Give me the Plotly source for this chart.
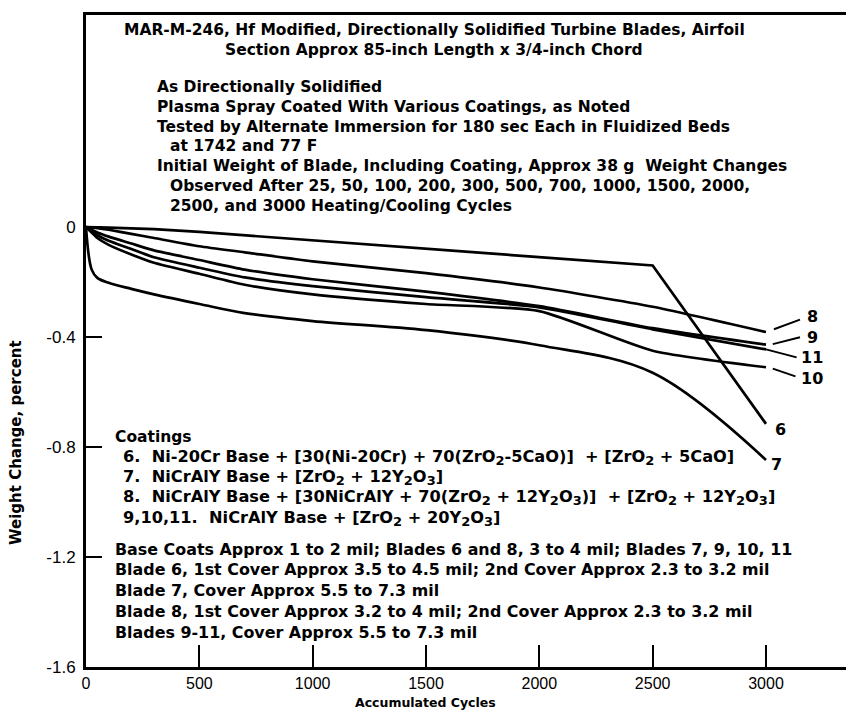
import plotly.graph_objects as go

# ---------------- data ----------------
cycles = [0, 25, 50, 100, 200, 300, 500, 700, 1000, 1500, 2000, 2500, 3000]
blade6 = [0, 0, 0, -0.002, -0.005, -0.008, -0.018, -0.030, -0.048, -0.080, -0.110, -0.140, -0.716]
blade7 = [0, -0.155, -0.185, -0.203, -0.225, -0.245, -0.280, -0.313, -0.342, -0.375, -0.430, -0.530, -0.847]
blade8 = [0, -0.002, -0.004, -0.010, -0.025, -0.040, -0.070, -0.092, -0.125, -0.168, -0.220, -0.290, -0.382]
blade9 = [0, -0.010, -0.020, -0.035, -0.060, -0.085, -0.120, -0.155, -0.190, -0.235, -0.288, -0.368, -0.428]
blade10 = [0, -0.020, -0.040, -0.065, -0.100, -0.130, -0.170, -0.210, -0.245, -0.280, -0.306, -0.450, -0.510]
blade11 = [0, -0.015, -0.030, -0.050, -0.080, -0.110, -0.148, -0.183, -0.215, -0.255, -0.292, -0.372, -0.445]

x_tickvals = [0, 500, 1000, 1500, 2000, 2500, 3000]
x_ticktext = ["0", "500", "1000", "1500", "2000", "2500", "3000"]
y_tickvals = [0, -0.4, -0.8, -1.2, -1.6]
y_ticktext = ["0", "-0.4", "-0.8", "-1.2", "-1.6"]

curve_names = ["6", "7", "8", "9", "10", "11"]

NB = "\u00a0"


def sub(s):
    return "<sub><span style='font-size:13px'>" + s + "</span></sub>"


title_lines = [
    "MAR-M-246, Hf Modified, Directionally Solidified Turbine Blades, Airfoil",
    "Section Approx 85-inch Length x 3/4-inch Chord",
]
header_lines = [
    ("As Directionally Solidified", 0),
    ("Plasma Spray Coated With Various Coatings, as Noted", 0),
    ("Tested by Alternate Immersion for 180 sec Each in Fluidized Beds", 0),
    ("at 1742 and 77 F", 1),
    ("Initial Weight of Blade, Including Coating, Approx 38 g" + NB + " Weight Changes", 0),
    ("Observed After 25, 50, 100, 200, 300, 500, 700, 1000, 1500, 2000,", 1),
    ("2500, and 3000 Heating/Cooling Cycles", 1),
]
coating_lines = [
    ("Coatings", 0),
    ("6." + NB * 2 + "Ni-20Cr Base + [30(Ni-20Cr) + 70(ZrO" + sub("2") + "-5CaO)]" + NB * 2
     + "+ [ZrO" + sub("2") + " + 5CaO]", 1),
    ("7." + NB * 2 + "NiCrAlY Base + [ZrO" + sub("2") + " + 12Y" + sub("2") + "O" + sub("3") + "]", 1),
    ("8." + NB * 2 + "NiCrAlY Base + [30NiCrAlY + 70(ZrO" + sub("2") + " + 12Y" + sub("2") + "O" + sub("3")
     + ")]" + NB * 2 + "+ [ZrO" + sub("2") + " + 12Y" + sub("2") + "O" + sub("3") + "]", 1),
    ("9,10,11." + NB * 2 + "NiCrAlY Base + [ZrO" + sub("2") + " + 20Y" + sub("2") + "O" + sub("3") + "]", 1),
]
thickness_lines = [
    "Base Coats Approx 1 to 2 mil; Blades 6 and 8, 3 to 4 mil; Blades 7, 9, 10, 11",
    "Blade 6, 1st Cover Approx 3.5 to 4.5 mil; 2nd Cover Approx 2.3 to 3.2 mil",
    "Blade 7, Cover Approx 5.5 to 7.3 mil",
    "Blade 8, 1st Cover Approx 3.2 to 4 mil; 2nd Cover Approx 2.3 to 3.2 mil",
    "Blades 9-11, Cover Approx 5.5 to 7.3 mil",
]

# ---------------- layout geometry ----------------
W, H = 846, 712
L, R, T, B = 86, 0, 15, 45
PW, PH = W - L - R, H - T - B


def paper(xp, yp):
    return (xp - L) / PW, (H - B - yp) / PH


FONT = "DejaVu Sans, Liberation Sans, sans-serif"
TICKFONT = "Liberation Sans, Arial, sans-serif"
BLACK = "#000000"

fig = go.Figure()

series = [blade6, blade7, blade8, blade9, blade10, blade11]
for name, vals in zip(curve_names, series):
    fig.add_trace(go.Scatter(
        x=cycles, y=vals, mode="lines", name=name,
        line=dict(color=BLACK, width=2.7,
                  shape="linear" if name == "6" else "spline",
                  smoothing=1.0 if name == "7" else 0.6),
        showlegend=False, hoverinfo="skip",
    ))

annotations = []

# curve labels (data coordinates)
label_pos = {"8": (3203, -0.326), "9": (3203, -0.401), "11": (3203, -0.474),
             "10": (3203, -0.550), "6": (3065, -0.735), "7": (3045, -0.862)}
for name in curve_names:
    lx, ly = label_pos[name]
    annotations.append(dict(x=lx, y=ly, xref="x", yref="y", text=name, showarrow=False,
                            xanchor="center", yanchor="middle",
                            font=dict(family=FONT, size=16, color=BLACK, weight="bold")))

# leader lines from curve ends to labels
leaders = [((3035, -0.372), (3150, -0.337)),
           ((3030, -0.426), (3150, -0.401)),
           ((3000, -0.445), (3135, -0.474)),
           ((3030, -0.515), (3130, -0.543))]
shapes = []
for (x0, y0), (x1, y1) in leaders:
    shapes.append(dict(type="line", xref="x", yref="y", x0=x0, y0=y0, x1=x1, y1=y1,
                       line=dict(color=BLACK, width=2)))

txt_font = dict(family=FONT, size=15.5, color=BLACK, weight="bold")
coat_font = dict(family=FONT, size=16.2, color=BLACK, weight="bold")
thick_font = dict(family=FONT, size=15.9, color=BLACK, weight="bold")

# title lines
for i, t in enumerate(title_lines):
    xp, yp = paper(434, 30 + 20 * i)
    annotations.append(dict(x=xp, y=yp, xref="paper", yref="paper", text=t, showarrow=False,
                            xanchor="center", yanchor="middle", font=txt_font))

# header block
for i, (t, ind) in enumerate(header_lines):
    xp, yp = paper(155 + 13 * ind, 87 + 19.8 * i)
    annotations.append(dict(x=xp, y=yp, xref="paper", yref="paper", text=t, showarrow=False,
                            xanchor="left", yanchor="middle", font=txt_font))

# coatings block
for i, (t, ind) in enumerate(coating_lines):
    xp, yp = paper(113 + 8 * ind, 437 + 20.3 * i)
    annotations.append(dict(x=xp, y=yp, xref="paper", yref="paper", text=t, showarrow=False,
                            xanchor="left", yanchor="middle",
                            font=txt_font if ind == 0 else coat_font))

# thickness block
for i, t in enumerate(thickness_lines):
    xp, yp = paper(113, 549 + 20.8 * i)
    annotations.append(dict(x=xp, y=yp, xref="paper", yref="paper", text=t, showarrow=False,
                            xanchor="left", yanchor="middle", font=thick_font))

# axis titles
xp, yp = paper(425, 702)
annotations.append(dict(x=xp, y=yp, xref="paper", yref="paper", text="Accumulated Cycles",
                        showarrow=False, xanchor="center", yanchor="middle",
                        font=dict(family=FONT, size=12.5, color=BLACK, weight="bold")))
xp, yp = paper(16, 443)
annotations.append(dict(x=xp, y=yp, xref="paper", yref="paper", text="Weight Change, percent",
                        showarrow=False, xanchor="center", yanchor="middle", textangle=-90,
                        font=dict(family=FONT, size=15, color=BLACK, weight="bold")))

x_max = 3000 + (W - R - 766) / (680 / 3000)
y_top = (227 - T) / 275.0

fig.update_layout(
    width=W, height=H,
    margin=dict(l=L, r=R, t=T, b=B, pad=0),
    paper_bgcolor="white", plot_bgcolor="white",
    showlegend=False,
    annotations=annotations,
    shapes=shapes,
    xaxis=dict(range=[0, x_max], tickvals=x_tickvals, ticktext=x_ticktext,
               ticks="inside", ticklen=22, tickwidth=2, tickcolor=BLACK,
               showline=True, linewidth=3, linecolor=BLACK, mirror=True,
               showgrid=False, zeroline=False,
               tickfont=dict(family=TICKFONT, size=16, color=BLACK)),
    yaxis=dict(range=[-1.6, y_top], tickvals=y_tickvals, ticktext=y_ticktext,
               ticks="inside", ticklen=16, tickwidth=2, tickcolor=BLACK,
               showline=True, linewidth=3, linecolor=BLACK,
               showgrid=False, zeroline=False, ticklabelstandoff=4,
               tickfont=dict(family=TICKFONT, size=17, color=BLACK)),
)

fig.write_html("out.html")
